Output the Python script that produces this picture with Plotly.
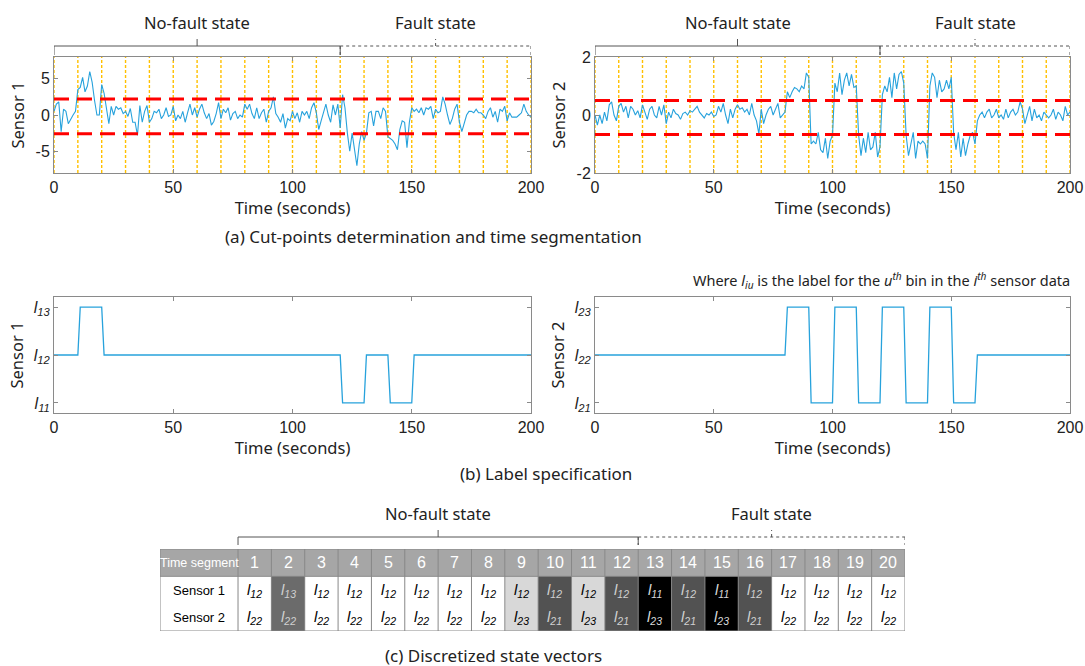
import math
import plotly.graph_objects as go

# ---------------- data ----------------
time_s = list(range(0, 201))

sensor1 = [0.5,
    1.5, 1.8, -2.3, 0.8, 0.5, -1.2, -0.5, 0.0, 0.5, 3.5,
    3.8, 5.2, 3.2, 4.0, 6.0, 4.5, 2.0, 0.0, 0.0, 4.2,
    3.0, 1.0, -1.2, 1.2, 0.0, 1.2, 0.8, 1.0, 0.2, 0.5,
    -0.2, 0.9, -1.0, -1.0, -2.8, 1.3, -1.0, 0.5, 1.3, -1.0,
    -0.5, 0.5, 0.3, 0.8, -0.5, 0.0, 1.0, -0.2, 0.0, 1.2,
    -0.8, 0.0, -0.5, 0.5, -1.0, 0.3, 1.5, 0.0, 1.0, -0.3,
    0.8, 1.5, 0.3, -0.5, 0.2, -1.4, -0.9, 0.2, 1.7, -0.5,
    0.8, 0.3, 1.0, -0.7, 0.2, 0.5, -0.5, 0.0, -0.3, 1.5,
    0.8, 1.5, 0.2, -0.5, 1.0, -0.5, 0.3, 0.8, -1.0, 0.5,
    1.0, 2.5, 0.2, -0.3, -1.0, 0.2, -1.8, -0.5, -0.8, 0.5,
    -0.5, 0.3, -1.0, 0.5, 0.0, 0.5, -0.5, 1.0, 1.7, 0.3,
    -2.0, -0.8, 0.5, 1.5, 0.0, -1.0, 1.4, 0.0, 1.5, -1.8,
    2.8, 1.0, -2.5, -5.0, -2.5, -4.5, -7.0, -4.0, -2.3, -3.5,
    -2.5, 0.3, 0.5, -1.5, 0.5, 0.5, -0.5, 1.0, 0.5, -3.0,
    -3.2, -3.5, -4.0, -4.8, -2.0, -0.8, -1.0, -4.5, -1.0, 1.0,
    0.5, 0.8, 0.3, 1.0, 0.0, 1.0, 0.8, 1.2, -0.5, 0.8,
    0.3, 0.5, 2.5, 1.5, 0.0, -1.3, -0.5, 0.8, 1.5, -1.0,
    -2.3, -1.0, 0.0, 0.5, 0.5, 0.3, 0.8, 0.3, 0.3, 0.0,
    -0.5, 0.5, 1.0, -0.3, 0.5, -1.0, 0.8, 0.5, 1.2, -0.8,
    0.3, -0.3, -0.3, -0.3, 0.0, 0.3, 1.5, 0.5, 0.0, -0.3]

sensor2 = [0.0,
    -0.35, 0.0, -0.3, 0.1, -0.2, 0.35, 0.45, 0.0, -0.2, 0.3,
    0.4, 0.1, 0.3, -0.1, 0.3, 0.2, 0.0, 0.15, -0.1, 0.35,
    0.1, -0.15, 0.2, 0.3, 0.0, -0.1, 0.3, 0.0, 0.35, -0.3,
    0.1, -0.1, 0.2, 0.05, 0.0, -0.15, 0.05, 0.1, 0.0, 0.15,
    0.1, 0.2, 0.3, 0.1, 0.0, -0.1, 0.05, 0.0, 0.1, -0.05,
    0.0, 0.3, 0.1, 0.4, 0.0, -0.3, 0.2, -0.1, 0.2, 0.35,
    0.2, 0.25, 0.1, 0.2, 0.0, 0.4, 0.0, -0.2, -0.65, 0.2,
    -0.3, 0.0, 0.2, 0.3, 0.0, 0.2, 0.4, -0.1, 0.0, 0.1,
    0.8, 0.6, 0.8, 0.95, 0.9, 0.8, 1.0, 0.9, 1.45, 1.3,
    -1.0, -0.9, -1.0, -0.6, -1.2, -1.3, -0.8, -1.5, -0.9, -0.7,
    1.1, 0.8, 1.45, 0.7, 1.2, 1.45, 1.0, 1.4, 0.95, 1.0,
    -0.7, -1.4, -0.8, -1.3, -0.6, -1.2, -1.1, -0.6, -1.45, -1.1,
    0.7, 1.0, 0.8, 1.3, 0.6, 1.45, 0.9, 1.4, 1.5, 1.1,
    -0.7, -1.4, -1.0, -0.6, -1.5, -0.9, -1.0, -0.9, -1.0, -1.5,
    1.0, 1.45, 1.3, 0.6, 1.2, 0.8, 0.9, 1.2, 0.9, 1.3,
    -0.6, -1.2, -0.6, -1.45, -0.8, -1.4, -1.0, -0.7, -0.6, -1.0,
    -0.2, 0.0, 0.1, -0.1, 0.1, 0.2, -0.1, 0.0, 0.2, -0.1,
    0.0, -0.15, 0.2, -0.1, 0.1, 0.2, 0.0, 0.1, 0.45, 0.2,
    -0.3, 0.0, 0.3, -0.2, 0.2, -0.1, 0.0, -0.2, 0.1, 0.0,
    -0.1, 0.0, 0.2, -0.15, 0.1, 0.0, -0.2, 0.3, 0.0, 0.1]

cut_points_s1 = [2.2, -2.6]
cut_points_s2 = [0.5, -0.67]
segment_len = 10
cut_times = list(range(0, 201, segment_len))
nofault_end = 120
t_end = 200

segments = list(range(1, 21))
seg_s1 = [12, 13, 12, 12, 12, 12, 12, 12, 12, 12, 12, 12, 11, 12, 11, 12, 12, 12, 12, 12]
seg_s2 = [22, 22, 22, 22, 22, 22, 22, 22, 23, 21, 23, 21, 23, 21, 23, 21, 22, 22, 22, 22]
nofault_segments = 12

# ---------------- style ----------------
W, H = 1085, 666
BLUE = '#27a2dc'
AX = '#8a8a8a'
TXT = 'Noto Sans'
NUM = 'Liberation Sans'


def px(x):
    return x / W


def py(y):
    return 1 - y / H


def lab(v):
    return '<i>l<sub>%d</sub></i>' % v


def level_series(seg_labels):
    out = []
    for t in time_s:
        k = max(math.ceil(t / segment_len) - 1, 0)
        out.append(seg_labels[k] % 10)
    return out


fig = go.Figure()
fig.add_trace(go.Scatter(x=time_s, y=sensor1, mode='lines', line=dict(color=BLUE, width=1.1),
                         xaxis='x', yaxis='y', hoverinfo='skip'))
fig.add_trace(go.Scatter(x=time_s, y=sensor2, mode='lines', line=dict(color=BLUE, width=1.1),
                         xaxis='x2', yaxis='y2', hoverinfo='skip'))
fig.add_trace(go.Scatter(x=time_s, y=level_series(seg_s1), mode='lines', line=dict(color=BLUE, width=1.3),
                         xaxis='x3', yaxis='y3', hoverinfo='skip'))
fig.add_trace(go.Scatter(x=time_s, y=level_series(seg_s2), mode='lines', line=dict(color=BLUE, width=1.3),
                         xaxis='x4', yaxis='y4', hoverinfo='skip'))

# ---------------- table as heatmap ----------------
LABEL_COL_W = 2.34
x_edges = [-LABEL_COL_W] + list(range(0, len(segments) + 1))
y_edges = [0, 2, 3]
state_idx = {(12, 22): 0, (12, 23): 2, (13, 22): 3, (12, 21): 4, (11, 23): 5}
palette = ['#ffffff', '#a6a6a6', '#d8d8d8', '#6b6b6b', '#525252', '#000000']
text_col = ['#000000', '#ffffff', '#000000', '#d0d0d0', '#d0d0d0', '#d8d8d8']
data_row = [0] + [state_idx[(a, b)] for a, b in zip(seg_s1, seg_s2)]
head_row = [1] * (len(segments) + 1)
cs = [[i / 5, c] for i, c in enumerate(palette)]
fig.add_trace(go.Heatmap(x=x_edges, y=y_edges, z=[data_row, head_row], colorscale=cs, zmin=0, zmax=5,
                         showscale=False, hoverinfo='skip', xaxis='x5', yaxis='y5'))

shapes = []
annos = []

# table borders
for xe in x_edges:
    shapes.append(dict(type='line', xref='x5', yref='y5', x0=xe, x1=xe, y0=0, y1=3,
                       line=dict(color='#888888', width=1)))
for ye in y_edges:
    shapes.append(dict(type='line', xref='x5', yref='y5', x0=x_edges[0], x1=x_edges[-1], y0=ye, y1=ye,
                       line=dict(color='#888888', width=1)))


def note(x, y, text, font, xref='paper', yref='paper', xanchor='center'):
    annos.append(dict(x=x, y=y, xref=xref, yref=yref, text=text, showarrow=False,
                      xanchor=xanchor, yanchor='middle', font=font))


# table text
lc = (x_edges[0] + x_edges[1]) / 2
note(lc, 2.5, 'Time segment', dict(family=NUM, size=12.5, color='white'), 'x5', 'y5')
note(lc, 1.5, 'Sensor 1', dict(family=NUM, size=13, color='black'), 'x5', 'y5')
note(lc, 0.5, 'Sensor 2', dict(family=NUM, size=13, color='black'), 'x5', 'y5')
for i, s in enumerate(segments):
    xc = s - 0.5
    note(xc, 2.5, str(s), dict(family=NUM, size=16, color='white'), 'x5', 'y5')
    col = text_col[data_row[i + 1]]
    note(xc, 1.5, lab(seg_s1[i]), dict(family=NUM, size=15, color=col), 'x5', 'y5')
    note(xc, 0.5, lab(seg_s2[i]), dict(family=NUM, size=15, color=col), 'x5', 'y5')

# vertical segment lines and thresholds in (a)
for xa, ya, cps in (('x', 'y', cut_points_s1), ('x2', 'y2', cut_points_s2)):
    for ct in cut_times:
        shapes.append(dict(type='line', xref=xa, yref=ya + ' domain', x0=ct, x1=ct, y0=0, y1=1,
                           layer='below', line=dict(color='#ffc000', width=1.4, dash='3px,2px')))
    for c in cps:
        shapes.append(dict(type='line', xref=xa + ' domain', yref=ya, x0=0, x1=1, y0=c, y1=c,
                           layer='above', line=dict(color='#ff0000', width=3, dash='15px,8px')))


def brace(xref, x0, x1, ybar, yend, ytip, dash, label, ytext):
    st = dict(color='#555555', width=1, dash=dash)
    xm = (x0 + x1) / 2
    shapes.append(dict(type='line', xref=xref, yref='paper', x0=x0, x1=x1, y0=py(ybar), y1=py(ybar), line=st))
    shapes.append(dict(type='line', xref=xref, yref='paper', x0=x0, x1=x0, y0=py(ybar), y1=py(yend), line=st))
    shapes.append(dict(type='line', xref=xref, yref='paper', x0=x1, x1=x1, y0=py(ybar), y1=py(yend), line=st))
    shapes.append(dict(type='line', xref=xref, yref='paper', x0=xm, x1=xm, y0=py(ybar), y1=py(ytip), line=st))
    note(xm, py(ytext), label, dict(family=TXT, size=16.5, color='#222'), xref, 'paper')


for xa in ('x', 'x2'):
    brace(xa, 0, nofault_end, 46, 55, 39, 'solid', 'No-fault state', 22)
    brace(xa, nofault_end, t_end, 46, 55, 39, 'dot', 'Fault state', 22)
brace('x5', 0, nofault_segments, 537, 545, 530, 'solid', 'No-fault state', 513)
brace('x5', nofault_segments, len(segments), 537, 545, 530, 'dot', 'Fault state', 513)

# captions
cap_font = dict(family=TXT, size=17, color='#222')
note(px(433), py(237), '(a) Cut-points determination and time segmentation', cap_font)
note(px(546), py(473), '(b) Label specification', cap_font)
note(px(493), py(655), '(c) Discretized state vectors', cap_font)
note(px(1072), py(280),
     'Where <i>l<sub>iu</sub></i> is the label for the <i>u<sup>th</sup></i> bin in the '
     '<i>i<sup>th</sup></i> sensor data',
     dict(family=TXT, size=14.5, color='#222'), xanchor='right')

common = dict(showgrid=False, zeroline=False, showline=True, linecolor=AX, linewidth=1, mirror='ticks',
              ticks='inside', ticklen=4, tickcolor=AX, automargin=False,
              tickfont=dict(family=NUM, size=16, color='#222'))
xcommon = dict(common, range=[0, t_end], tickvals=[0, 50, 100, 150, 200],
               title=dict(text='Time (seconds)', font=dict(family=TXT, size=16.5, color='#222'), standoff=2))


def ytitle(t):
    return dict(text=t, font=dict(family=TXT, size=16.5, color='#222'), standoff=6)


dxL = [px(54), px(531)]
dxR = [px(595), px(1070)]
dyA = [py(173), py(57)]
dyB = [py(413), py(297)]

fig.update_layout(
    width=W, height=H, margin=dict(l=0, r=0, t=0, b=0, pad=0, autoexpand=False), showlegend=False,
    paper_bgcolor='white', plot_bgcolor='white',
    xaxis=dict(xcommon, domain=dxL, anchor='y'),
    yaxis=dict(common, domain=dyA, anchor='x', range=[-8, 8], tickvals=[-5, 0, 5], ticktext=['-5', '0', '5'],
               title=ytitle('Sensor 1')),
    xaxis2=dict(xcommon, domain=dxR, anchor='y2'),
    yaxis2=dict(common, domain=dyA, anchor='x2', range=[-2, 2], tickvals=[-2, 0, 2], ticktext=['-2', '0', '2'],
                title=ytitle('Sensor 2')),
    xaxis3=dict(xcommon, domain=dxL, anchor='y3'),
    yaxis3=dict(common, domain=dyB, anchor='x3', range=[0.79, 3.21], tickvals=[1, 2, 3],
                ticktext=[lab(11), lab(12), lab(13)], title=ytitle('Sensor 1')),
    xaxis4=dict(xcommon, domain=dxR, anchor='y4'),
    yaxis4=dict(common, domain=dyB, anchor='x4', range=[0.79, 3.21], tickvals=[1, 2, 3],
                ticktext=[lab(21), lab(22), lab(23)], title=ytitle('Sensor 2')),
    xaxis5=dict(domain=[px(160), px(905)], anchor='y5', range=[x_edges[0], x_edges[-1]], visible=False,
                automargin=False),
    yaxis5=dict(domain=[py(631), py(549)], anchor='x5', range=[0, 3], visible=False, automargin=False),
    shapes=shapes, annotations=annos,
)

fig.write_html('out.html', config={'displayModeBar': False},
               post_script="document.body.style.margin='0px';document.body.style.overflow='hidden';")
